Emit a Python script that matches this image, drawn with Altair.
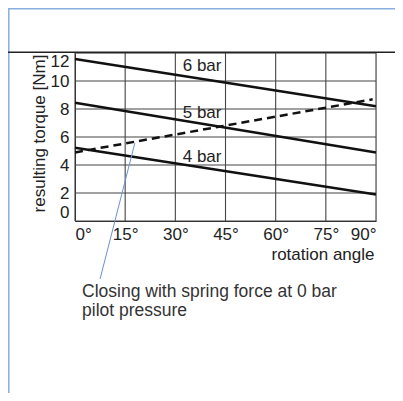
import altair as alt
import pandas as pd

# ---- data ----
angle_ends = [0, 90]
torque_6bar = [11.57, 8.19]
torque_5bar = [8.45, 4.90]
torque_4bar = [5.24, 1.90]
spring_angle = [0, 89]
spring_torque = [4.90, 8.69]

label_text = ["6 bar", "5 bar", "4 bar"]
label_angle = [43.8, 43.8, 43.8]
label_torque = [11.07, 7.68, 4.54]

leader_angle = [17.9, 7.5]
leader_torque = [5.57, -4.14]

note_lines = ["Closing with spring force at 0 bar", "pilot pressure"]
note_angle = [2.1]
note_torque = [-5.43]

x_ticks = [0, 15, 30, 45, 60, 75, 90]
y_ticks = [0, 2, 4, 6, 8, 10, 12]

FONT = "Liberation Sans"
W, H = 301, 168
PL, PT, PR, PB = 67, 45, 19, 172

rows = []
for name, vals in [("6 bar", torque_6bar), ("5 bar", torque_5bar), ("4 bar", torque_4bar)]:
    for a, t in zip(angle_ends, vals):
        rows.append({"series": name, "angle": a, "torque": t})
solid_df = pd.DataFrame(rows)
spring_df = pd.DataFrame({"angle": spring_angle, "torque": spring_torque})
labels_df = pd.DataFrame({"label": label_text, "angle": label_angle, "torque": label_torque})
leader_df = pd.DataFrame({"angle": leader_angle, "torque": leader_torque})
note_df = pd.DataFrame({"angle": note_angle, "torque": note_torque, "txt": [note_lines]})
xgrid_df = pd.DataFrame({"angle": x_ticks})
ygrid_df = pd.DataFrame({"torque": y_ticks})

xs = alt.Scale(domain=[0, 90], nice=False, zero=False)
ys = alt.Scale(domain=[0, 12], nice=False, zero=False)

x_axis = alt.Axis(
    values=x_ticks, labelExpr="datum.value + '°'", labelFlush=True, labelOverlap=False,
    grid=False, ticks=False, tickSize=0,
    domainColor="#222", labelFont=FONT, labelFontSize=17, labelColor="#222",
    labelPadding=5, title="rotation angle", titleFont=FONT, titleFontSize=17,
    titleFontWeight="normal", titleColor="#222", titleAlign="right",
    titleBaseline="alphabetic", titleX=299, titleY=38,
)
y_axis = alt.Axis(
    values=y_ticks, tickCount=7, labelFlush=True, labelOverlap=False, grid=False,
    ticks=False, tickSize=0, domainColor="#222",
    labelFont=FONT, labelFontSize=17, labelColor="#222", labelPadding=6,
    title="resulting torque [Nm]", titleFont=FONT, titleFontSize=17,
    titleFontWeight="normal", titleColor="#222", titleAlign="center",
    titleBaseline="alphabetic", titleX=-31, titleY=80,
)

X = alt.X("angle:Q", scale=xs, axis=x_axis)
Y = alt.Y("torque:Q", scale=ys, axis=y_axis)

xgrid = alt.Chart(xgrid_df).mark_rule(color="#444", strokeWidth=1.1).encode(x=X)
ygrid = alt.Chart(ygrid_df).mark_rule(color="#444", strokeWidth=1.1).encode(y=Y)

solid = alt.Chart(solid_df).mark_line(color="#111", strokeWidth=2.5).encode(
    x=X, y=Y, detail="series:N"
)
spring = alt.Chart(spring_df).mark_line(color="#111", strokeWidth=2.5, strokeDash=[8, 5]).encode(
    x=X, y=Y
)
labels = alt.Chart(labels_df).mark_text(
    font=FONT, fontSize=17, color="#222", align="right", baseline="middle"
).encode(x=X, y=Y, text="label:N")
leader = alt.Chart(leader_df).mark_line(color="#6b92d6", strokeWidth=1).encode(x=X, y=Y)
note = alt.Chart(note_df).mark_text(
    font=FONT, fontSize=17.5, color="#333", align="left", baseline="alphabetic", lineHeight=19
).encode(x=X, y=Y, text="txt")

# page decorations (scan frame)
frame_left = alt.Chart(pd.DataFrame({"k": [0]})).mark_rule(color="#8aaee0", strokeWidth=1.5).encode(
    x=alt.value(-66.2), y=alt.value(-45), y2=alt.value(H + PB)
)
frame_top = alt.Chart(pd.DataFrame({"k": [0]})).mark_rule(color="#8aaee0", strokeWidth=1.5).encode(
    x=alt.value(-67), x2=alt.value(W + PR), y=alt.value(-44.2)
)
black_top = alt.Chart(pd.DataFrame({"k": [0]})).mark_rule(color="#222", strokeWidth=1.5).encode(
    x=alt.value(-67), x2=alt.value(W + PR), y=alt.value(-0.8)
)

chart = alt.layer(
    xgrid, ygrid, solid, spring, labels, leader, note, frame_left, frame_top, black_top
).properties(
    width=W, height=H,
    autosize=alt.AutoSizeParams(type="none"),
    padding={"left": PL, "top": PT, "right": PR, "bottom": PB},
).configure_view(stroke="#222", strokeWidth=1).configure(background="white")

chart.save("out.html", embed_options={"renderer": "svg", "actions": False})
